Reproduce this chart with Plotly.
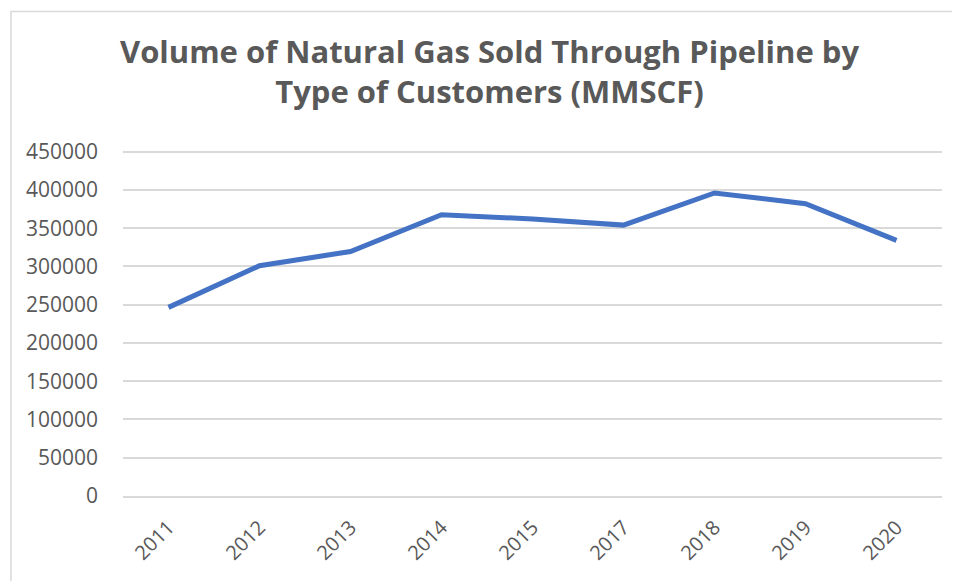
import plotly.graph_objects as go

years = ["2011", "2012", "2013", "2014", "2015", "2017", "2018", "2019", "2020"]
volume = [246500, 301000, 319500, 367500, 362000, 354000, 396000, 382000, 334000]
y_ticks = [0, 50000, 100000, 150000, 200000, 250000, 300000, 350000, 400000, 450000]

title_text = "Volume of Natural Gas Sold Through Pipeline by<br>Type of Customers (MMSCF)"

# page body has an 8px offset; work in figure coordinates
W, H = 952, 573
L, R, B = 115, 18, 85
Y_MAX = 460000
plot_h = Y_MAX * 344 / 450000
T = H - B - plot_h
plot_w = W - L - R

fig = go.Figure()
fig.add_trace(go.Scatter(
    x=years, y=volume, mode="lines",
    line=dict(color="#4472C4", width=5),
    hoverinfo="x+y",
))

grey = "#595959"
fig.update_layout(
    width=W, height=H,
    paper_bgcolor="white", plot_bgcolor="white",
    margin=dict(l=L, r=R, t=T, b=B, autoexpand=False),
    showlegend=False,
    font=dict(family="Open Sans", color=grey, size=20),
    annotations=[dict(
        text=title_text, showarrow=False,
        xref="paper", yref="paper",
        x=(481 - L) / plot_w, xanchor="center",
        y=1 + (T - 20) / plot_h, yanchor="top",
        align="center",
        font=dict(family="Open Sans", size=31, color=grey, weight="bold"),
    )],
    xaxis=dict(
        type="category", tickangle=-45, showgrid=False,
        range=[-0.5, len(years) - 0.5],
        showline=True, linecolor="#D9D9D9", linewidth=1.5,
        ticks="", ticklabelstandoff=10, automargin=False,
        tickfont=dict(size=20, color=grey),
    ),
    yaxis=dict(
        range=[0, Y_MAX], tickvals=y_ticks,
        ticktext=[str(v) for v in y_ticks],
        showgrid=True, gridcolor="#D9D9D9", gridwidth=1.5,
        zeroline=False, showline=False, ticks="",
        ticklabelstandoff=24, automargin=False,
        tickfont=dict(size=21, color=grey),
    ),
    shapes=[dict(
        type="rect", xref="paper", yref="paper",
        x0=(3 - L) / plot_w, x1=1.2,
        y0=-0.4, y1=1 + (T - 4) / plot_h,
        line=dict(color="#D9D9D9", width=1.5),
        fillcolor="rgba(0,0,0,0)", layer="below",
    )],
)

fig.write_html("out.html")
